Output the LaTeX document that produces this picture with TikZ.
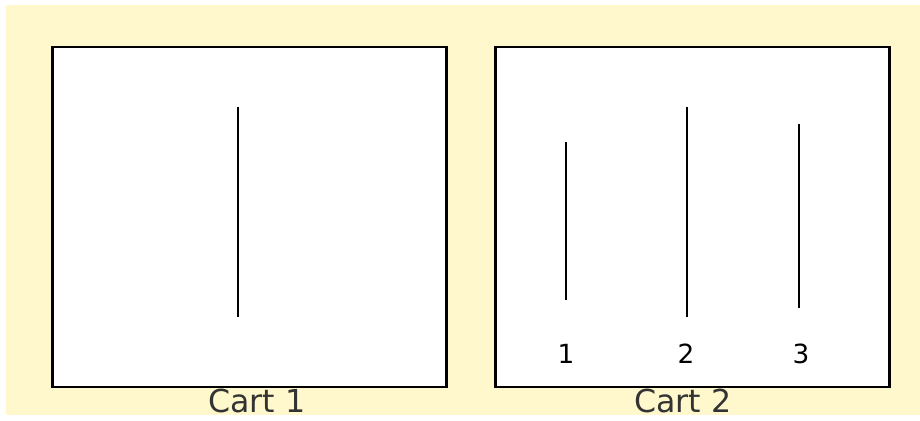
\documentclass[tikz,border=0pt]{standalone}
\usepackage{fontspec}
\setmainfont{DejaVu Sans}
\usetikzlibrary{positioning}
\definecolor{paper}{RGB}{255,248,204}

\begin{document}
\begin{tikzpicture}[x=0.02cm, y=-0.02cm,
  cart/.style={draw, line width=1.6pt, fill=white, inner sep=0pt, outer sep=0pt,
    minimum width=7.88cm, minimum height=6.8cm},
  rod/.style={line width=1.1pt},
  tag/.style={font=\fontsize{15}{15}\selectfont, anchor=base},
  caption/.style={font=\fontsize{18}{18}\selectfont, text=black!80, anchor=base}]
\useasboundingbox (0,0) rectangle (920,421);
\fill[paper] (6,5) rectangle (920,415);
% the two carts
\node[cart] (cart1) at (249.5,217) {};
\node[cart, right=0.98cm of cart1] (cart2) {};
\node[caption] (cap1) at (257,413) {Cart 1};
\node[caption] (cap2) at (683,413) {Cart 2};
% rod in cart 1
\draw[rod] (238,107) -- (238,317);
% rods in cart 2
\draw[rod] (566,142) -- (566,300);
\draw[rod] (687,107) -- (687,317);
\draw[rod] (799,124) -- (799,308);
\node[tag] (n1) at (566,364) {1};
\node[tag] (n2) at (686,364) {2};
\node[tag] (n3) at (801,364) {3};
\end{tikzpicture}
\end{document}
